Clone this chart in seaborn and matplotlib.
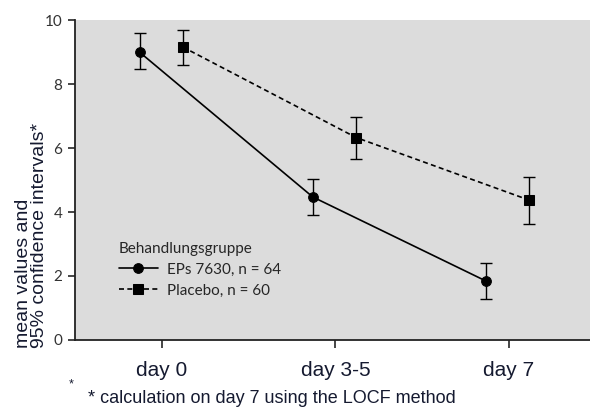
import numpy as np
import pandas as pd
import matplotlib.pyplot as plt
import seaborn as sns

# ---- Data ----
days = ["day 0", "day 3-5", "day 7"]
groups = ["EPs 7630, n = 64", "Placebo, n = 60"]

eps_mean = [9.0, 4.47, 1.84]
eps_lo   = [8.47, 3.90, 1.28]
eps_hi   = [9.60, 5.03, 2.40]

plc_mean = [9.16, 6.33, 4.37]
plc_lo   = [8.60, 5.66, 3.63]
plc_hi   = [9.70, 6.97, 5.09]

y_ticks = [0, 2, 4, 6, 8, 10]

# ---- Style ----
sns.set_style("ticks")
plt.rcParams['font.family'] = ['Liberation Sans', 'DejaVu Sans']
TXT = "#151a30"
DODGE = {groups[0]: -0.13, groups[1]: 0.12}

rows = []
for g, m, lo, hi in [(groups[0], eps_mean, eps_lo, eps_hi),
                     (groups[1], plc_mean, plc_lo, plc_hi)]:
    for i, d in enumerate(days):
        rows.append({"group": g, "day": d, "x": i + DODGE[g],
                     "mean": m[i], "lo": lo[i], "hi": hi[i]})
df = pd.DataFrame(rows)

fig = plt.figure(figsize=(5.9, 4.12), dpi=100)
ax = fig.add_axes([0.127, 0.175, 0.873, 0.776])
ax.set_facecolor("#dcdcdc")

sns.lineplot(data=df, x="x", y="mean", hue="group", style="group",
             palette=["black", "black"],
             markers={groups[0]: "o", groups[1]: "s"},
             dashes={groups[0]: "", groups[1]: (3, 2)},
             markersize=7, linewidth=1.2, markeredgecolor="black",
             ax=ax)

# precomputed 95% CIs
for g in groups:
    sub = df[df["group"] == g]
    ax.errorbar(sub["x"], sub["mean"],
                yerr=[sub["mean"] - sub["lo"], sub["hi"] - sub["mean"]],
                fmt="none", ecolor="black", elinewidth=1.0, capsize=4,
                capthick=1.0)

ax.set_xlim(-0.503, 2.47)
ax.set_ylim(0, 10)
ax.set_xticks(range(len(days)))
ax.set_xticklabels(days, fontsize=15, color=TXT)
ax.set_yticks(y_ticks)
ax.set_yticklabels([str(t) for t in y_ticks], fontsize=11, family="Lato",
                   color="#333333")
ax.tick_params(axis="x", length=6, width=1.2, pad=9)
ax.tick_params(axis="y", length=5, width=1.2, pad=4)
ax.set_xlabel("")
ax.set_ylabel("")

# y label drawn as figure text so both lines start at the bottom
fig.text(0.053, 0.155, "mean values and\n95% confidence intervals*",
         rotation=90, ha="center", va="bottom", multialignment="left",
         fontsize=14, color=TXT, linespacing=0.95)

sns.despine(ax=ax, top=True, right=True)
for s in ["left", "bottom"]:
    ax.spines[s].set_linewidth(1.3)
    ax.spines[s].set_color("#222222")

handles, labels = ax.get_legend_handles_labels()
leg = ax.legend(handles, labels, title="Behandlungsgruppe",
                loc="upper left", bbox_to_anchor=(0.058, 0.35),
                frameon=False, alignment="left", handlelength=2.6,
                handletextpad=0.6, labelspacing=0.45,
                prop={"family": "Lato", "size": 11},
                title_fontproperties={"family": "Lato", "size": 11})

fig.text(0.117, 0.06, "*", fontsize=9, color=TXT)
fig.text(0.149, 0.022, "* calculation on day 7 using the LOCF method",
         fontsize=13, color=TXT)

fig.savefig("out.png", dpi=100)
